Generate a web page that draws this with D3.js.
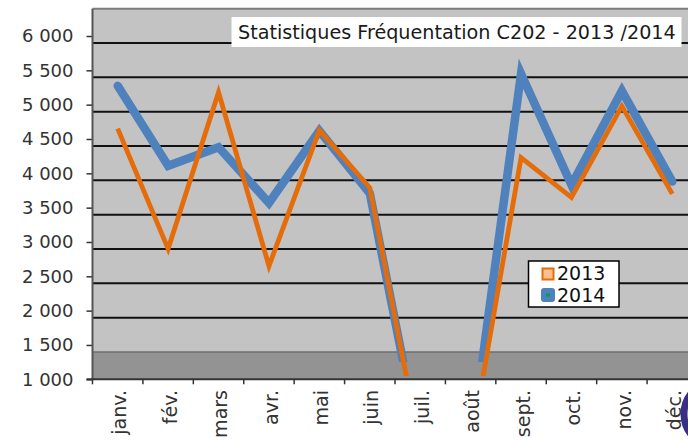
<!DOCTYPE html>
<html>
<head>
<meta charset="utf-8">
<script src="https://cdn.jsdelivr.net/npm/d3@7/dist/d3.min.js"></script>
<style>
  html, body { margin: 0; padding: 0; background: #fff; }
  svg { display: block; font-family: "DejaVu Sans", Verdana, sans-serif; }
</style>
</head>
<body>
<svg id="chart" width="688" height="441"></svg>
<script>
// Monthly attendance, room C202
const months = ["janv.", "fév.", "mars", "avr.", "mai", "juin", "juil.", "août", "sept.", "oct.", "nov.", "déc."];
const values2013 = [4650, 2900, 5180, 2650, 4630, 3790, 0, 0, 4230, 3650, 4980, 3700];
const values2014 = [5275, 4110, 4380, 3570, 4620, 3710, 0, 0, 5450, 3830, 5200, 3880];
const yTicks = [1000, 1500, 2000, 2500, 3000, 3500, 4000, 4500, 5000, 5500, 6000];
const gridValues = [2000, 2500, 3000, 3500, 4000, 4500, 5000, 5500, 6000];
const seriesNames = ["2013", "2014"];
const titleText = "Statistiques Fréquentation C202 - 2013 /2014";

const svg = d3.select("#chart");
const W = 688, H = 441;
const left = 92.5, right = 697.5;
const depth = 7; // back wall sits a few pixels below the value scale

const x = d3.scaleBand().domain(months).range([left, right]);
const y = d3.scaleLinear().domain([1000, 6000]).range([379.3, 36]);
const fr = d3.formatLocale({ decimal: ",", thousands: " ", grouping: [3], currency: ["", " €"] });
const fmt = fr.format(",d");

const orange = "#e46c0a", blue = "#4f81bd";

// back wall and floor
const wallTop = y(6500) + depth;
const floorTop = y(1500) + depth;
svg.append("rect").attr("x", left).attr("y", wallTop)
  .attr("width", W - left).attr("height", floorTop - wallTop).attr("fill", "#c3c3c3");
svg.append("rect").attr("x", left).attr("y", floorTop)
  .attr("width", W - left).attr("height", y(1000) - floorTop).attr("fill", "#939393");
svg.append("line").attr("x1", left).attr("x2", W).attr("y1", wallTop).attr("y2", wallTop)
  .attr("stroke", "#7d7d7d").attr("stroke-width", 2);
svg.append("line").attr("x1", left).attr("x2", W).attr("y1", floorTop).attr("y2", floorTop)
  .attr("stroke", "#6e6e6e").attr("stroke-width", 1.5);

// horizontal gridlines
svg.append("g").selectAll("line").data(gridValues).join("line")
  .attr("x1", left).attr("x2", W)
  .attr("y1", d => y(d) + depth).attr("y2", d => y(d) + depth)
  .attr("stroke", "#111").attr("stroke-width", 2);

// y axis
const yAxis = svg.append("g").attr("transform", `translate(${left},0)`)
  .call(d3.axisLeft(y).tickValues(yTicks).tickFormat(fmt).tickSize(6).tickPadding(13));
yAxis.select(".domain").remove();
yAxis.selectAll(".tick line").attr("stroke", "#333").attr("stroke-width", 1.5);
yAxis.selectAll(".tick text").attr("font-size", 18).attr("fill", "#333")
  .attr("font-family", "DejaVu Sans, Verdana, sans-serif");
svg.append("line").attr("x1", left).attr("x2", left).attr("y1", wallTop).attr("y2", y(1000))
  .attr("stroke", "#555").attr("stroke-width", 2);

// x axis
svg.append("line").attr("x1", left - 6).attr("x2", W).attr("y1", y(1000)).attr("y2", y(1000))
  .attr("stroke", "#333").attr("stroke-width", 2);
const boundaries = months.map(m => x(m));
svg.append("g").selectAll("line").data(boundaries).join("line")
  .attr("x1", d => d).attr("x2", d => d).attr("y1", y(1000)).attr("y2", y(1000) + 5)
  .attr("stroke", "#333").attr("stroke-width", 1.5);
svg.append("g").selectAll("text").data(months).join("text")
  .attr("transform", d => `translate(${x(d) + x.bandwidth() / 2 + 2},390) rotate(-90)`)
  .attr("text-anchor", "end").attr("dy", "0.35em")
  .attr("font-size", 19).attr("fill", "#333").text(d => d);

// series lines, clipped at the floor
const defs = svg.append("defs");
defs.append("clipPath").attr("id", "clip2013").append("rect")
  .attr("x", left).attr("y", 0).attr("width", W - left).attr("height", 376);
defs.append("clipPath").attr("id", "clip2014").append("rect")
  .attr("x", left).attr("y", 0).attr("width", W - left).attr("height", 362);

const line = d3.line().x((d, i) => x(months[i]) + x.bandwidth() / 2).y(d => y(d));

svg.append("path").datum(values2014).attr("d", line)
  .attr("clip-path", "url(#clip2014)")
  .attr("fill", "none").attr("stroke", blue).attr("stroke-width", 8.5)
  .attr("stroke-linejoin", "miter").attr("stroke-linecap", "round");
svg.append("path").datum(values2013).attr("d", line)
  .attr("clip-path", "url(#clip2013)")
  .attr("fill", "none").attr("stroke", orange).attr("stroke-width", 4.8)
  .attr("stroke-linejoin", "miter").attr("stroke-linecap", "butt");

// title box
const title = svg.append("g");
title.append("rect").attr("x", 231.5).attr("y", 17).attr("width", 450).attr("height", 30)
  .attr("fill", "#fff");
const tText = title.append("text").attr("x", 238).attr("y", 39)
  .attr("font-size", 18).attr("fill", "#1a1a1a").text(titleText);
const tw = tText.node().getComputedTextLength();
tText.attr("font-size", 18 * 438 / tw);

// legend
const lg = svg.append("g");
lg.append("rect").attr("x", 528.5).attr("y", 261).attr("width", 90.5).attr("height", 46)
  .attr("fill", "#fff").attr("stroke", "#000").attr("stroke-width", 1.5);
lg.append("rect").attr("x", 542.5).attr("y", 268.5).attr("width", 11).attr("height", 11)
  .attr("fill", "#fac090").attr("stroke", orange).attr("stroke-width", 2);
lg.append("rect").attr("x", 541).attr("y", 288).attr("width", 14).attr("height", 14).attr("rx", 3)
  .attr("fill", blue);
lg.append("rect").attr("x", 546).attr("y", 293.5).attr("width", 4).attr("height", 3)
  .attr("fill", "#00a050");
lg.selectAll("text.lab").data(seriesNames).join("text").attr("class", "lab")
  .attr("x", 557).attr("y", (d, i) => 280 + i * 22)
  .attr("font-size", 19).attr("fill", "#111").text(d => d);

// dark ring fragment at the lower right edge
svg.append("ellipse").attr("cx", 708).attr("cy", 414).attr("rx", 24).attr("ry", 29)
  .attr("fill", "none").attr("stroke", "#3a2d86").attr("stroke-width", 7);
</script>
</body>
</html>
